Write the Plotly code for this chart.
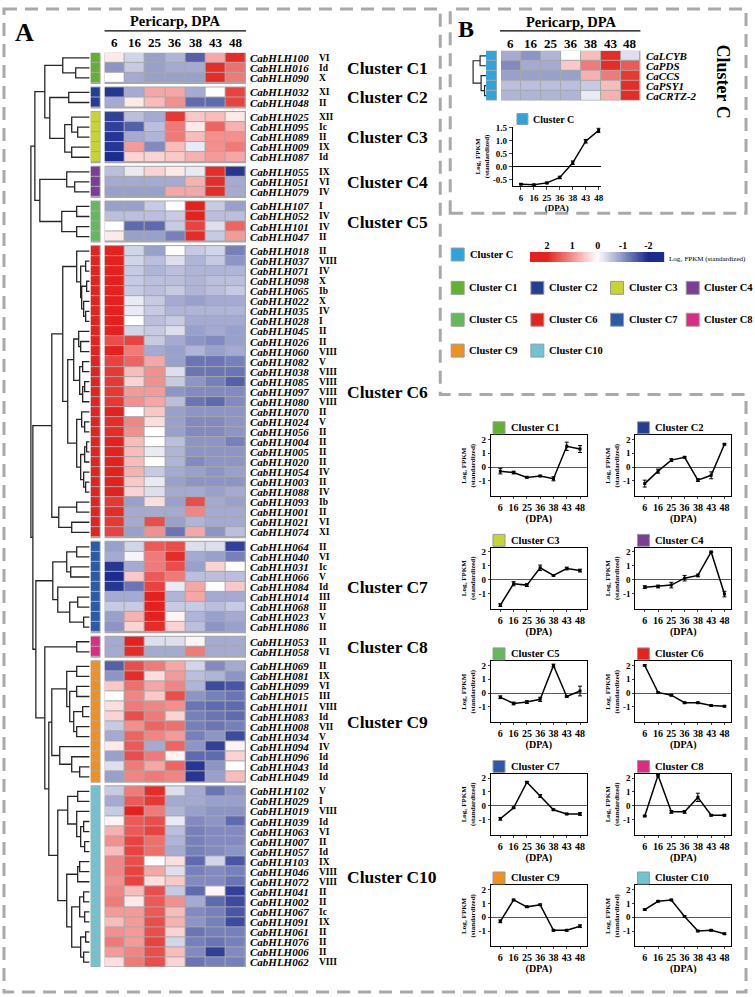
import numpy as np
import plotly.graph_objects as go

W, H = 755, 997
FONT = "Liberation Serif"

# ---------------- data ----------------
dpa = ["6", "16", "25", "36", "38", "43", "48"]
clusters = ["C1", "C2", "C3", "C4", "C5", "C6", "C7", "C8", "C9", "C10"]
cluster_colors = ["#62b22f", "#233e93", "#c6d52f", "#7b3d96", "#64b95d",
                  "#e2231f", "#2b5aa8", "#df2a83", "#ef9120", "#6fc3d3"]
color_clusterC = "#2ca5de"

genes_C1 = ["100", "016", "090"]
fam_C1 = ["VI", "Id", "X"]
expr_C1 = [[0.2, -0.4, -0.9, -0.7, -1.5, 0.8, 1.9],
           [-1.0, -0.5, -0.9, -0.8, -0.8, 1.9, 1.3],
           [0.0, -0.8, -0.9, -0.9, -0.9, 1.9, 1.2]]

genes_C2 = ["032", "048"]
fam_C2 = ["XI", "II"]
expr_C2 = [[-1.9, -0.8, 0.8, 0.8, -0.8, 0.0, 1.7],
           [-0.8, 0.2, 0.6, 1.0, -1.4, -1.4, 1.7]]

genes_C3 = ["025", "095", "089", "009", "087"]
fam_C3 = ["XII", "Ic", "II", "IX", "Id"]
expr_C3 = [[-1.8, -0.6, -0.8, 1.8, 0.5, 0.6, 0.2],
           [-1.8, -1.5, -0.6, 1.2, 0.2, 1.4, 0.7],
           [-1.9, -0.8, -0.7, 1.2, 0.6, 1.0, 1.0],
           [-1.9, 0.9, -1.1, 0.6, -0.2, 1.0, 1.2],
           [-2.0, 0.4, 0.4, 0.5, 0.7, 0.9, 0.8]]

genes_C4 = ["055", "051", "079"]
fam_C4 = ["IX", "VI", "IV"]
expr_C4 = [[-0.6, -0.2, 0.4, 0.2, -0.2, 1.9, -1.9],
           [-0.8, -0.8, -0.8, -0.8, 0.7, 1.9, -0.8],
           [-0.9, -0.9, -0.9, 0.8, 0.8, 1.9, -0.8]]

genes_C5 = ["107", "052", "101", "047"]
fam_C5 = ["I", "IV", "IV", "II"]
expr_C5 = [[-0.9, -0.9, -0.5, 0.0, 2.0, -0.5, -0.9],
           [-0.6, -0.6, -0.6, -0.5, 2.0, -0.6, -0.6],
           [0.0, -1.4, -1.4, -0.5, 1.7, -0.3, 1.4],
           [0.2, -0.9, -0.9, -1.2, 1.9, -0.5, 0.9]]

genes_C6 = ["018", "037", "071", "098", "065", "022", "035", "028", "045", "026",
            "060", "082", "038", "085", "097", "080", "070", "024", "056", "004",
            "005", "020", "054", "003", "088", "093", "001", "021", "074"]
fam_C6 = ["II", "VIII", "IV", "X", "Ib", "X", "IV", "I", "II", "II",
          "VIII", "V", "VIII", "VIII", "VIII", "VIII", "II", "V", "II", "II",
          "II", "II", "IV", "II", "IV", "Ib", "II", "VI", "XI"]
expr_C6 = [[2.0, -0.4, -0.9, 0.0, -0.5, -0.4, -1.2],
           [2.0, -0.4, -0.6, -0.3, -0.7, -0.5, -1.0],
           [2.0, -0.5, -0.7, -0.6, -0.7, -0.7, -0.7],
           [2.0, -0.5, -0.6, -0.6, -0.7, -0.6, -0.6],
           [2.0, -0.5, -0.6, -0.5, -0.7, -0.6, -0.5],
           [2.0, -0.2, -0.5, -0.8, -0.9, -0.8, -0.8],
           [2.0, -0.2, -0.5, -0.7, -0.7, -0.7, -0.7],
           [2.0, 0.0, -0.6, -0.5, -0.8, -0.8, -0.8],
           [2.0, -0.4, -0.5, -0.3, -0.9, -0.8, -0.9],
           [1.6, 1.7, -0.5, -0.8, -1.0, -1.1, -0.9],
           [2.0, 1.2, -0.8, -0.9, -0.7, -0.9, -0.8],
           [1.7, 1.4, 0.8, -0.9, -1.3, -1.3, -1.2],
           [1.8, 0.6, 1.0, -0.3, -1.3, -1.3, -1.3],
           [1.8, 0.4, 1.0, -0.5, -1.0, -1.2, -1.5],
           [1.8, 0.9, 0.9, -1.0, -1.1, -1.1, -1.1],
           [1.8, 1.0, 0.8, -0.6, -1.3, -1.4, -1.1],
           [2.0, 0.0, 0.5, -0.9, -1.0, -1.0, -1.0],
           [1.9, 1.1, 0.3, -0.9, -1.1, -1.1, -1.0],
           [1.9, 1.0, 0.0, -0.9, -1.1, -1.1, -1.0],
           [2.0, 0.6, 0.0, -0.6, -1.0, -1.0, -1.2],
           [2.0, 0.6, -0.2, -0.7, -1.0, -1.0, -1.0],
           [2.0, 0.6, 0.0, -0.7, -1.1, -1.0, -1.0],
           [2.0, 0.7, -0.5, -0.8, -0.9, -1.0, -0.9],
           [2.0, 0.5, -0.2, -0.9, -1.0, -1.0, -1.0],
           [2.0, 0.4, -0.3, -0.8, -0.8, -0.9, -0.8],
           [1.8, -0.9, 0.3, -0.9, 1.6, -0.8, -0.9],
           [1.9, -0.8, -0.8, -0.8, 1.1, -0.8, -0.8],
           [1.8, -0.8, 1.6, -0.9, -0.7, -0.8, -0.8],
           [1.7, -0.9, 1.0, -1.3, 0.8, -1.0, -0.6]]

genes_C7 = ["064", "040", "031", "066", "084", "014", "068", "023", "086"]
fam_C7 = ["II", "VI", "Ic", "V", "Id", "III", "II", "V", "II"]
expr_C7 = [[-0.9, -0.4, 1.5, 1.6, -0.3, -0.3, -1.8],
           [-0.8, -0.1, 1.2, 1.9, -0.8, -0.9, -1.2],
           [-1.9, -0.8, 1.2, 1.6, -0.9, 0.4, 0.0],
           [-2.0, 0.5, 1.5, 1.2, -0.6, -0.6, -0.6],
           [-1.9, -1.3, 1.7, -0.2, 0.8, 0.0, 0.5],
           [-0.8, -0.8, 2.0, -0.7, 0.8, -0.8, -0.8],
           [-0.5, -0.5, 2.0, -0.5, -0.5, -0.6, -0.5],
           [-0.9, 0.7, 2.0, 0.1, -0.7, -0.9, -0.8],
           [-1.0, 0.4, 1.9, 0.4, -0.6, -1.0, -0.9]]

genes_C8 = ["053", "058"]
fam_C8 = ["II", "VI"]
expr_C8 = [[-0.8, 2.0, -0.3, -0.3, 0.1, -0.8, -0.8],
           [-0.8, 1.9, -0.8, -0.8, 1.2, -0.8, -0.8]]

genes_C9 = ["069", "081", "099", "015", "011", "083", "008", "034", "094", "096", "043", "049"]
fam_C9 = ["II", "IX", "VI", "III", "VIII", "Id", "VII", "V", "IV", "Id", "Id", "Id"]
expr_C9 = [[-1.5, 1.6, 1.2, 0.8, -0.4, -1.1, -0.8],
           [-1.0, 1.9, 0.3, 0.9, -0.6, -0.7, -1.0],
           [0.5, 1.3, 0.8, 1.1, -0.7, -1.7, -1.6],
           [0.0, 1.1, 0.5, 1.6, -1.0, -1.2, -1.3],
           [0.3, 1.2, 1.1, 1.0, -1.3, -1.4, -1.4],
           [0.4, 1.6, 1.2, 0.4, -1.2, -1.3, -1.4],
           [-0.5, 1.0, 1.4, 1.3, -1.2, -1.3, -1.2],
           [-0.8, 1.4, 1.1, 0.9, -1.2, -1.0, -1.7],
           [0.2, 1.5, -0.8, 1.4, -1.0, -1.8, 0.1],
           [-0.9, 1.6, 1.2, 0.1, -1.4, -1.4, 0.4],
           [-0.3, 1.2, 0.8, 1.4, -1.9, -1.0, 0.0],
           [-0.9, 1.1, 1.2, 1.1, -1.9, -0.9, 0.6]]

genes_C10 = ["102", "029", "019", "039", "063", "007", "057", "103", "046", "072",
             "041", "002", "067", "091", "061", "076", "006", "062"]
fam_C10 = ["V", "I", "VIII", "Id", "VI", "II", "Id", "IX", "VIII", "VIII",
           "II", "II", "Ic", "IX", "II", "II", "II", "VIII"]
expr_C10 = [[-0.5, 1.2, 1.9, -0.3, -0.8, -1.3, -1.0],
            [-0.8, 1.5, 1.8, -0.8, -0.8, -0.9, -0.9],
            [-0.5, 2.0, 1.2, -0.7, -0.9, -1.0, -1.0],
            [0.1, 1.5, 1.6, -0.2, -1.1, -1.0, -1.4],
            [0.7, 1.5, 1.7, -0.6, -1.2, -1.1, -1.1],
            [1.0, 1.7, 1.3, -0.7, -1.2, -1.1, -1.1],
            [0.6, 1.7, 1.3, -0.8, -1.2, -1.1, -1.0],
            [1.1, 1.6, 0.0, 0.3, -1.4, -0.4, -1.6],
            [1.1, 1.7, 0.8, -0.3, -1.2, -1.1, -1.2],
            [1.0, 1.7, 0.3, 0.5, -1.1, -1.1, -1.3],
            [1.1, 0.6, 1.6, -0.5, -1.4, 0.1, -1.8],
            [1.2, 0.2, 1.5, 1.0, -0.8, -1.4, -1.7],
            [0.9, 0.9, 1.5, 0.6, -1.1, -1.2, -1.6],
            [0.6, 0.9, 1.6, 0.7, -1.0, -1.2, -1.7],
            [1.0, 0.9, 1.6, 0.4, -1.3, -1.2, -1.2],
            [1.2, 0.9, 1.7, -0.4, -1.2, -1.3, -1.2],
            [0.9, 1.1, 1.6, 0.6, -1.1, -1.8, -1.1],
            [0.3, 1.2, 1.6, 0.4, -1.3, -1.2, -1.2]]

# dendrogram trees: [left, right, merge height]
tree_C1 = ["100", ["016", "090", 14], 27]
tree_C2 = ["032", "048", 21]
tree_C3 = [["025", ["095", "089", 12], 18], ["009", "087", 18], 25]
tree_C4 = ["055", ["051", "079", 15], 23]
tree_C5 = [["107", "052", 13], ["101", "047", 13], 28]
tree_C6a = ["018", [["037", "071", 4], [["098", "065", 3], ["022", ["035", "028", 4], 6], 8], 9], 13]
tree_C6b = [["045", ["026", "060", 9], 11], [["082", "038", 7], [["085", "097", 5], "080", 7], 10], 16]
tree_C6c = [["070", ["024", "056", 5], 8], [[["004", "005", 3], "020", 5], ["054", ["003", "088", 4], 6], 9], 13]
tree_C6d = [["093", "001", 13], ["021", "074", 18], 31]
tree_C6 = [[tree_C6a, [tree_C6b, tree_C6c, 22], 27], tree_C6d, 38]
tree_C7 = [[["064", "040", 13], ["031", "066", 19], 23], ["084", [["014", "068", 12], ["023", "086", 6], 20], 32], 37]
tree_C8 = ["053", "058", 13]
tree_C9 = [[["069", "081", 13], [["099", "015", 13], [["011", "083", 7], ["008", "034", 13], 16], 20], 23],
           ["094", ["096", ["043", "049", 10], 18], 30], 38]
tree_C10 = [[["102", "029", 12], ["019", [["039", "063", 6], ["007", "057", 5], 9], 13], 22],
            [[["103", "046", 10], "072", 12],
             [[["041", "002", 6], ["067", "091", 5], 10], [["061", "076", 4], ["006", "062", 6], 9], 18], 23], 32]
tree_A = [[[tree_C1, [tree_C2, tree_C3, 40], 45], [tree_C4, tree_C5, 50], 55],
          [tree_C6, [tree_C7, [tree_C8, [tree_C9, tree_C10, 41], 45], 54], 57], 59]

# panel B
genes_B = ["CaLCYB", "CaPDS", "CaCCS", "CaPSY1", "CaCRTZ-2"]
expr_B = [[-0.8, -1.0, -0.7, 0.0, 0.6, 1.9, -0.3],
          [-1.1, -0.8, -0.8, 0.5, 1.2, 1.9, 1.5],
          [-0.9, -0.9, -0.9, -0.9, 0.7, 1.2, 1.8],
          [-0.6, -0.6, -0.6, -0.6, -0.5, 0.6, 1.9],
          [-0.7, -0.7, -0.7, -0.7, -0.2, 0.7, 1.9]]
tree_B = [["CaLCYB", "CaPDS", 6], ["CaCCS", ["CaPSY1", "CaCRTZ-2", 1.5], 5], 13]
prof_C = [-0.68, -0.70, -0.63, -0.42, 0.15, 0.98, 1.40]
err_C = [0.02, 0.02, 0.03, 0.05, 0.07, 0.07, 0.08]

# cluster mean profiles
prof_C1 = [-0.3, -0.4, -0.75, -0.65, -0.85, 1.5, 1.3]
err_C1 = [0.2, 0.1, 0.05, 0.05, 0.15, 0.3, 0.25]
prof_C2 = [-1.2, -0.3, 0.5, 0.7, -0.95, -0.6, 1.65]
err_C2 = [0.25, 0.15, 0.1, 0.05, 0.1, 0.25, 0.05]
prof_C3 = [-1.85, -0.3, -0.4, 0.85, 0.3, 0.8, 0.65]
err_C3 = [0.1, 0.15, 0.1, 0.2, 0.05, 0.1, 0.1]
prof_C4 = [-0.55, -0.5, -0.4, 0.1, 0.3, 2.0, -1.05]
err_C4 = [0.1, 0.1, 0.2, 0.2, 0.1, 0.05, 0.2]
prof_C5 = [-0.3, -0.75, -0.65, -0.45, 2.0, -0.25, 0.15]
err_C5 = [0.1, 0.1, 0.1, 0.15, 0.1, 0.05, 0.35]
prof_C6 = [2.0, 0.05, -0.15, -0.7, -0.7, -0.9, -0.95]
err_C6 = [0.05, 0.05, 0.05, 0.05, 0.05, 0.05, 0.05]
prof_C7 = [-0.95, -0.15, 1.7, 0.7, -0.3, -0.6, -0.6]
err_C7 = [0.1, 0.05, 0.05, 0.1, 0.05, 0.05, 0.1]
prof_C8 = [-0.75, 2.2, -0.45, -0.45, 0.6, -0.7, -0.7]
err_C8 = [0.05, 0.05, 0.1, 0.1, 0.3, 0.05, 0.05]
prof_C9 = [-0.3, 1.25, 0.75, 0.9, -0.95, -0.95, -0.65]
err_C9 = [0.1, 0.05, 0.05, 0.05, 0.05, 0.05, 0.1]
prof_C10 = [0.55, 1.15, 1.25, 0.05, -1.0, -0.95, -1.2]
err_C10 = [0.05, 0.05, 0.05, 0.05, 0.05, 0.05, 0.05]

cb_ticks = [2, 1, 0, -1, -2]

cluster_genes = [genes_C1, genes_C2, genes_C3, genes_C4, genes_C5, genes_C6, genes_C7, genes_C8, genes_C9, genes_C10]
cluster_fams = [fam_C1, fam_C2, fam_C3, fam_C4, fam_C5, fam_C6, fam_C7, fam_C8, fam_C9, fam_C10]
cluster_expr = [expr_C1, expr_C2, expr_C3, expr_C4, expr_C5, expr_C6, expr_C7, expr_C8, expr_C9, expr_C10]
cluster_prof = [prof_C1, prof_C2, prof_C3, prof_C4, prof_C5, prof_C6, prof_C7, prof_C8, prof_C9, prof_C10]
cluster_err = [err_C1, err_C2, err_C3, err_C4, err_C5, err_C6, err_C7, err_C8, err_C9, err_C10]


# ---------------- helpers ----------------
def px_x(p):
    return p / W


def px_y(p):
    return 1 - p / H


HID = dict(visible=False, showgrid=False, zeroline=False, fixedrange=True)
CELL_BORDER = "#a8a8a8"
HEAT_CS = [[0, "#1b2b8e"], [0.5, "#ffffff"], [1, "#e6211d"]]
DASH = dict(color="#a9a9a9", width=3, dash="13px,8px")

fig = go.Figure()
layout = {}
shapes = []
annotations = []


def dendro_lines(tree, leafpos):
    xs, ys = [], []

    def rec(n):
        if isinstance(n, str):
            return leafpos[n], 0.0
        l, r, h = n
        yl, hl = rec(l)
        yr, hr = rec(r)
        xs.extend([hl, h, h, hr, None])
        ys.extend([yl, yl, yr, yr, None])
        return (yl + yr) / 2, h

    rec(tree)
    return xs, ys


def ann(x, y, text, size, xref="paper", yref="paper", xanchor="center", yanchor="middle", **kw):
    annotations.append(dict(x=x, y=y, xref=xref, yref=yref, text=text, showarrow=False,
                            xanchor=xanchor, yanchor=yanchor,
                            font=dict(family=FONT, size=size, color="black"), **kw))


# ---------------- panel A heatmap ----------------
GAP = 0.45
leafpos = {}
spans = []
cur = 0.0
for gl in cluster_genes:
    start = cur
    for g in gl:
        leafpos[g] = cur + 0.5
        cur += 1
    spans.append((start, cur))
    cur += GAP
total = cur - GAP

layout["xaxis"] = dict(HID, domain=[px_x(105), px_x(247)], range=[-0.5, 6.5], anchor="y")
layout["yaxis"] = dict(HID, domain=[px_y(967), px_y(49)], range=[total, 0], anchor="x")
layout["xaxis2"] = dict(HID, domain=[px_x(91), px_x(101)], range=[-0.5, 0.5], anchor="y")
layout["xaxis3"] = dict(HID, domain=[px_x(30), px_x(90)], range=[60, 0], anchor="y")

for k in range(len(clusters)):
    gl, fl, ex = cluster_genes[k], cluster_fams[k], cluster_expr[k]
    col = cluster_colors[k]
    yv = [leafpos[g] for g in gl]
    s, e = spans[k]
    shapes.append(dict(type="rect", xref="x", yref="y", x0=-0.56, x1=6.56, y0=s - 0.1, y1=e + 0.1,
                       fillcolor=CELL_BORDER, line_width=0, layer="below"))
    shapes.append(dict(type="rect", xref="x2", yref="y", x0=-0.6, x1=0.6, y0=s - 0.1, y1=e + 0.1,
                       fillcolor=CELL_BORDER, line_width=0, layer="below"))
    fig.add_trace(go.Heatmap(z=ex, x=list(range(7)), y=yv, colorscale=HEAT_CS, zmin=-2, zmax=2,
                             showscale=False, xgap=1, ygap=1, xaxis="x", yaxis="y", hoverinfo="skip"))
    fig.add_trace(go.Heatmap(z=[[0]] * len(gl), x=[0], y=yv, colorscale=[[0, col], [1, col]],
                             showscale=False, ygap=1, xgap=1, xaxis="x2", yaxis="y", hoverinfo="skip"))
    for g, f in zip(gl, fl):
        ann(px_x(249), leafpos[g], f"<b><i>CabHLH{g}</i></b>", 11, yref="y", xanchor="left")
        ann(px_x(318), leafpos[g], f"<b>{f}</b>", 9.5, yref="y", xanchor="left")
    ann(px_x(346), (s + e) / 2, f"<b>Cluster {clusters[k]}</b>", 17.5, yref="y", xanchor="left")

dx, dy = dendro_lines(tree_A, leafpos)
fig.add_trace(go.Scatter(x=dx, y=dy, mode="lines", line=dict(color="#262626", width=1.3),
                         xaxis="x3", yaxis="y", hoverinfo="skip", showlegend=False))

ann(px_x(25), px_y(29), "<b>A</b>", 26)
ann(px_x(176), px_y(17), "<b>Pericarp, DPA</b>", 14.5)
shapes.append(dict(type="line", xref="paper", yref="paper", x0=px_x(105), x1=px_x(247),
                   y0=px_y(27), y1=px_y(27), line=dict(color="black", width=1.2)))
for i, d in enumerate(dpa):
    ann(i, px_y(39), f"<b>{d}</b>", 13, xref="x")

# ---------------- panel B ----------------
layout["xaxis4"] = dict(HID, domain=[px_x(503), px_x(643)], range=[-0.5, 6.5], anchor="y4")
layout["yaxis4"] = dict(HID, domain=[px_y(97), px_y(47)], range=[5, 0], anchor="x4")
layout["xaxis5"] = dict(HID, domain=[px_x(488), px_x(499)], range=[-0.5, 0.5], anchor="y4")
layout["xaxis6"] = dict(HID, domain=[px_x(470), px_x(488)], range=[18, 0], anchor="y4")
leafB = {g: i + 0.5 for i, g in enumerate(genes_B)}
yB = [leafB[g] for g in genes_B]
shapes.append(dict(type="rect", xref="x4", yref="y4", x0=-0.55, x1=6.55, y0=-0.1, y1=5.1,
                   fillcolor=CELL_BORDER, line_width=0, layer="below"))
shapes.append(dict(type="rect", xref="x5", yref="y4", x0=-0.6, x1=0.6, y0=-0.1, y1=5.1,
                   fillcolor=CELL_BORDER, line_width=0, layer="below"))
fig.add_trace(go.Heatmap(z=expr_B, x=list(range(7)), y=yB, colorscale=HEAT_CS, zmin=-2, zmax=2,
                         showscale=False, xgap=1, ygap=1, xaxis="x4", yaxis="y4", hoverinfo="skip"))
fig.add_trace(go.Heatmap(z=[[0]] * len(genes_B), x=[0], y=yB,
                         colorscale=[[0, color_clusterC], [1, color_clusterC]],
                         showscale=False, ygap=1, xgap=1, xaxis="x5", yaxis="y4", hoverinfo="skip"))
bx, by = dendro_lines(tree_B, leafB)
fig.add_trace(go.Scatter(x=bx, y=by, mode="lines", line=dict(color="#262626", width=1.2),
                         xaxis="x6", yaxis="y4", hoverinfo="skip", showlegend=False))
for g in genes_B:
    ann(px_x(647), leafB[g], f"<b><i>{g}</i></b>", 11, yref="y4", xanchor="left")
for i, d in enumerate(dpa):
    ann(i, px_y(40), f"<b>{d}</b>", 13, xref="x4")
ann(px_x(468), px_y(25), "<b>B</b>", 24)
ann(px_x(573), px_y(18), "<b>Pericarp, DPA</b>", 14.5)
shapes.append(dict(type="line", xref="paper", yref="paper", x0=px_x(502), x1=px_x(643),
                   y0=px_y(27), y1=px_y(27), line=dict(color="black", width=1.2)))
ann(px_x(726), px_y(78), "<b>Cluster C</b>", 18, textangle=90)

# panel B line chart
TICKF = dict(family=FONT, size=9, color="black", weight="bold")
layout["xaxis7"] = dict(domain=[px_x(515), px_x(603)], range=[-0.62, 6.15], anchor="y7",
                        tickvals=list(range(7)), ticktext=dpa, showline=True, linecolor="black",
                        linewidth=1.2, ticks="outside", ticklen=3, tickwidth=1, showgrid=False,
                        zeroline=False, tickfont=TICKF, fixedrange=True,
                        title=dict(text="(DPA)", font=TICKF, standoff=0))
layout["yaxis7"] = dict(domain=[px_y(183), px_y(123)], range=[-0.76, 1.55], anchor="x7",
                        tickvals=[-0.5, 0, 0.5, 1.0, 1.5], ticktext=["-0.5", "0.0", "0.5", "1.0", "1.5"],
                        showline=True, linecolor="black", linewidth=1.2, ticks="outside", ticklen=3,
                        showgrid=False, zeroline=True, zerolinecolor="black", zerolinewidth=1.2,
                        tickfont=TICKF, fixedrange=True,
                        title=dict(text="Log₂ FPKM<br>(standardized)",
                                   font=dict(family=FONT, size=7, weight="bold", color="black"), standoff=2))
fig.add_trace(go.Scatter(x=list(range(7)), y=prof_C, mode="lines+markers",
                         line=dict(color="black", width=1.4),
                         marker=dict(symbol="square", size=3, color="black"),
                         error_y=dict(type="data", array=err_C, color="black", thickness=1, width=2),
                         xaxis="x7", yaxis="y7", hoverinfo="skip", showlegend=False))
shapes.append(dict(type="rect", xref="paper", yref="paper", x0=px_x(519), x1=px_x(530),
                   y0=px_y(121), y1=px_y(110), fillcolor=color_clusterC, line=dict(color="#999", width=1)))
ann(px_x(533), px_y(115.5), "<b>Cluster C</b>", 10, xanchor="left")

# ---------------- colour scale legend ----------------
cb_vals = np.linspace(2.67, -2.63, 160)
layout["xaxis8"] = dict(domain=[px_x(532), px_x(667)], range=[2.67, -2.63], anchor="y8", side="top",
                        tickvals=cb_ticks, ticktext=[str(t) for t in cb_ticks], showline=False,
                        ticks="", showgrid=False, zeroline=False, fixedrange=True,
                        tickfont=dict(family=FONT, size=10, color="black", weight="bold"))
layout["yaxis8"] = dict(HID, domain=[px_y(259), px_y(249)], range=[0, 1], anchor="x8")
fig.add_trace(go.Heatmap(z=[list(cb_vals)], x=list(cb_vals), y=[0.5], colorscale=HEAT_CS, zmin=-2, zmax=2,
                         showscale=False, xaxis="x8", yaxis="y8", hoverinfo="skip"))
ann(px_x(670), px_y(256), "Log₂ FPKM (standardized)", 7, xanchor="left")

# cluster legend
shapes.append(dict(type="rect", xref="paper", yref="paper", x0=px_x(453), x1=px_x(466),
                   y0=px_y(258), y1=px_y(245), fillcolor=color_clusterC, line=dict(color="#999", width=1)))
ann(px_x(470), px_y(251.5), "<b>Cluster C</b>", 10.5, xanchor="left")
leg_cols = [453, 533, 613, 689]
leg_rows = [285, 317, 348]
for k, cl in enumerate(clusters):
    lx = leg_cols[k % 4]
    ly = leg_rows[k // 4]
    shapes.append(dict(type="rect", xref="paper", yref="paper", x0=px_x(lx), x1=px_x(lx + 13),
                       y0=px_y(ly + 6.5), y1=px_y(ly - 6.5), fillcolor=cluster_colors[k],
                       line=dict(color="#999", width=1)))
    ann(px_x(lx + 16), px_y(ly), f"<b>Cluster {cl}</b>", 10.5, xanchor="left")

# ---------------- small profile charts ----------------
chart_cols = [493, 638]
chart_tops = [433, 546, 660, 773, 885]
CW, CH = 96, 61
for k, cl in enumerate(clusters):
    n = 9 + k
    L = chart_cols[k % 2]
    T = chart_tops[k // 2]
    tf10 = dict(family=FONT, size=10, color="black", weight="bold")
    tf9 = dict(family=FONT, size=9, color="black", weight="bold")
    layout[f"xaxis{n}"] = dict(domain=[px_x(L), px_x(L + CW)], range=[-0.7, 6.5], anchor=f"y{n}",
                               tickvals=list(range(7)), ticktext=dpa, showline=True, mirror=True,
                               linecolor="black", linewidth=1.3, ticks="outside", ticklen=2,
                               showgrid=False, zeroline=False, tickfont=tf10, fixedrange=True,
                               title=dict(text="(DPA)", font=tf10, standoff=0))
    layout[f"yaxis{n}"] = dict(domain=[px_y(T + CH), px_y(T)], range=[-2.1, 2.3], anchor=f"x{n}",
                               tickvals=[-1, 0, 1, 2], ticktext=["-1", "0", "1", "2"], showline=True,
                               mirror=True, linecolor="black", linewidth=1.3, ticks="outside", ticklen=2,
                               showgrid=False, zeroline=True, zerolinecolor="#8c4a21", zerolinewidth=1.3,
                               tickfont=tf9, fixedrange=True,
                               title=dict(text="Log₂ FPKM<br>(standardized)",
                                          font=dict(family=FONT, size=7, weight="bold", color="black"),
                                          standoff=2))
    fig.add_trace(go.Scatter(x=list(range(7)), y=cluster_prof[k], mode="lines+markers",
                             line=dict(color="black", width=1.5),
                             marker=dict(symbol="square", size=3, color="black"),
                             error_y=dict(type="data", array=cluster_err[k], color="black",
                                          thickness=1, width=2),
                             xaxis=f"x{n}", yaxis=f"y{n}", hoverinfo="skip", showlegend=False))
    shapes.append(dict(type="rect", xref="paper", yref="paper", x0=px_x(L + 2), x1=px_x(L + 14),
                       y0=px_y(T - 1.5), y1=px_y(T - 13.5), fillcolor=cluster_colors[k],
                       line=dict(color="#999", width=1)))
    ann(px_x(L + 18), px_y(T - 7.5), f"<b>Cluster {cl}</b>", 10.5, xanchor="left")

# ---------------- dashed frames ----------------
def P(x, y):
    return f"{px_x(x):.5f},{px_y(y):.5f}"


pathA = f"M{P(4, 5)} L{P(442, 5)} L{P(442, 392)} L{P(749, 392)} L{P(749, 992)} L{P(4, 992)} Z"
shapes.append(dict(type="path", xref="paper", yref="paper", path=pathA, line=DASH))
shapes.append(dict(type="rect", xref="paper", yref="paper", x0=px_x(452), x1=px_x(749),
                   y0=px_y(210), y1=px_y(5), line=DASH))

layout.update(dict(width=W, height=H, autosize=False, margin=dict(l=0, r=0, t=0, b=0),
                   paper_bgcolor="white", plot_bgcolor="rgba(0,0,0,0)", showlegend=False,
                   font=dict(family=FONT, color="black"), shapes=shapes, annotations=annotations))
fig.update_layout(**layout)
fig.write_html("out.html", config={"displayModeBar": False},
               post_script="document.body.style.margin='0';document.body.style.padding='0';"
                           "document.body.style.overflow='hidden';")
